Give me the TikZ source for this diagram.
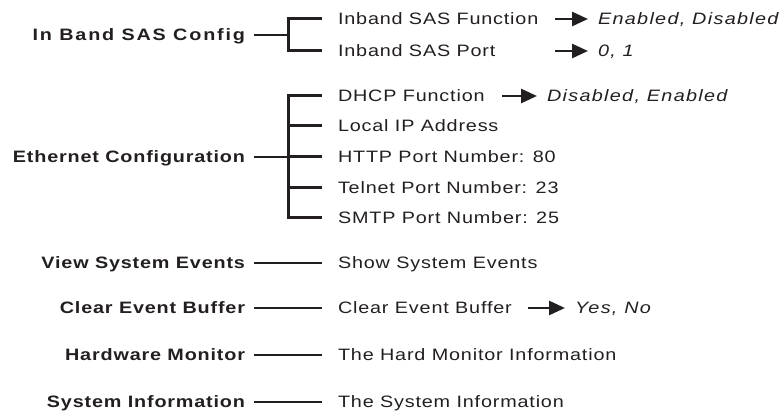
\documentclass[tikz,border=0pt]{standalone}
\usepackage{fontspec}
\setmainfont{Liberation Sans}
\newfontfamily\menufont[FakeStretch=1.2,LetterSpace=5]{Liberation Sans}
\newfontfamily\widefont[FakeStretch=1.2,LetterSpace=11]{Liberation Sans}
\newfontfamily\pickfont[FakeStretch=1.2,LetterSpace=8]{Liberation Sans}
\usetikzlibrary{arrows.meta}
\definecolor{ink}{RGB}{35,31,32}

\tikzset{
  txt/.style={inner sep=0pt,outer sep=0pt,text height=11.8pt,text depth=0pt,
    text=ink,font=\menufont\fontsize{16.5}{19}\selectfont},
  head/.style={txt,anchor=east,font=\menufont\fontsize{16.5}{19}\selectfont\bfseries},
  entry/.style={txt,anchor=west},
  choice/.style={txt,anchor=west,font=\pickfont\fontsize{16.5}{19}\selectfont\itshape},
  stub/.style={draw=ink,line width=2.4pt,shorten <=9pt},
  link/.style={stub,shorten >=16pt},
  bracket/.style={draw=ink,line width=3pt,shorten <=16pt,shorten >=16pt},
  twig/.style={draw=ink,line width=3pt,shorten >=16pt},
  pick/.style={draw=ink,line width=2.8pt,shorten >=10pt,
    -{Triangle[length=16pt,width=14pt]}}
}

\begin{document}
\begin{tikzpicture}[x=1pt,y=-1pt]
  \useasboundingbox (0,0) rectangle (782,411);

  % in band SAS
  \node[head,font=\widefont\fontsize{16.5}{19}\selectfont\bfseries] (sas) at (245,35) {In Band SAS Config};
  \node[entry] (sasfn) at (338,19) {Inband SAS Function};
  \node[entry] (sasport) at (338,51) {Inband SAS Port};
  \node[choice] (sasfnv) at (598,19) {Enabled, Disabled};
  \node[choice] (sasportv) at (598,51) {0, 1};
  \coordinate (sasbot) at (288,51);
  \draw[bracket] (sasfn) -| (sasbot) -- (sasport);
  \draw[stub] (sas) -- (sasbot |- sas);
  \coordinate (sasfnt) at (555,19);
  \coordinate (sasportt) at (555,51);
  \draw[pick] (sasfnt) -- (sasfnv);
  \draw[pick] (sasportt) -- (sasportv);

  % ethernet
  \node[head] (eth) at (245,157) {Ethernet Configuration};
  \foreach \n/\y/\t in {dhcp/96/DHCP Function,lip/126/Local IP Address,
      http/157/HTTP Port Number: 80,telnet/188/Telnet Port Number: 23,
      smtp/218/SMTP Port Number: 25}
    \node[entry] (\n) at (338,\y) {\t};
  \coordinate (ethbot) at (288,218);
  \draw[bracket] (dhcp) -| (ethbot) -- (smtp);
  \foreach \n in {lip,http,telnet}
    \draw[twig] (ethbot |- \n) -- (\n);
  \draw[stub] (eth) -- (ethbot |- eth);
  \node[choice] (dhcpv) at (547,96) {Disabled, Enabled};
  \coordinate (dhcpt) at (502,96);
  \draw[pick] (dhcpt) -- (dhcpv);

  % single items
  \foreach \h/\c/\y/\htxt/\ctxt in {events/showev/263/View System Events/Show System Events,
      clear/clearev/308/Clear Event Buffer/Clear Event Buffer,
      hwmon/hwinfo/355/Hardware Monitor/The Hard Monitor Information,
      sysinfo/sysinfoc/402/System Information/The System Information}
  {
    \node[head] (\h) at (245,\y) {\htxt};
    \node[entry] (\c) at (338,\y) {\ctxt};
    \draw[link] (\h) -- (\c);
  }
  \node[choice] (clearv) at (575,308) {Yes, No};
  \coordinate (cleart) at (528,308);
  \draw[pick] (cleart) -- (clearv);
\end{tikzpicture}
\end{document}
